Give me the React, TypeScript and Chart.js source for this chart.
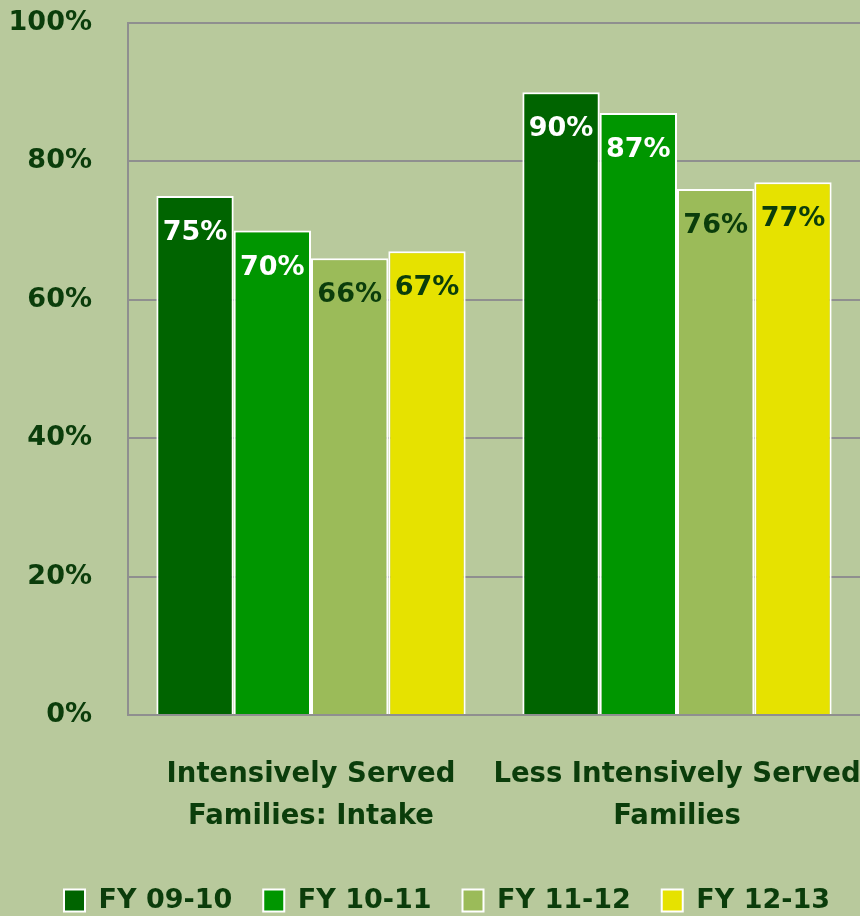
import React, { useEffect, useRef } from "react";
import { Chart, registerables } from "chart.js";

Chart.register(...registerables);

const categories: string[][] = [
  ["Intensively Served", "Families: Intake"],
  ["Less Intensively Served", "Families"],
];
const seriesNames = ["FY 09-10", "FY 10-11", "FY 11-12", "FY 12-13"];
const fy0910 = [75, 90];
const fy1011 = [70, 87];
const fy1112 = [66, 76];
const fy1213 = [67, 77];
const seriesColors = ["#006400", "#009600", "#9BBB59", "#E6E200"];
const labelColors = ["#FFFFFF", "#FFFFFF", "#0B3D0B", "#0B3D0B"];
const yTicks = [0, 20, 40, 60, 80, 100];

const TEXT = "#0B3D0B";
const FONT = "'DejaVu Sans', sans-serif";

const dataLabelPlugin = {
  id: "dataLabels",
  afterDatasetsDraw(chart: any) {
    const ctx = chart.ctx;
    ctx.save();
    ctx.font = `bold 27px ${FONT}`;
    ctx.textAlign = "center";
    ctx.textBaseline = "middle";
    chart.data.datasets.forEach((ds: any, i: number) => {
      const meta = chart.getDatasetMeta(i);
      meta.data.forEach((bar: any, j: number) => {
        ctx.fillStyle = labelColors[i];
        ctx.fillText(`${ds.data[j]}%`, bar.x, bar.y + 37);
      });
    });
    ctx.restore();
  },
};

const legendShiftPlugin = {
  id: "legendShift",
  afterLayout(chart: any) {
    if (chart.legend) {
      chart.legend.left += 17;
      chart.legend.right += 17;
    }
  },
};

export default function App() {
  const ref = useRef<HTMLCanvasElement>(null);
  useEffect(() => {
    document.body.style.margin = "0";
    const allData = [fy0910, fy1011, fy1112, fy1213];
    const chart = new Chart(ref.current!, {
      type: "bar",
      data: {
        labels: categories,
        datasets: seriesNames.map((name, i) => ({
          label: name,
          data: allData[i],
          backgroundColor: seriesColors[i],
          borderColor: "#FFFFFF",
          borderWidth: 2,
          borderSkipped: "bottom",
          categoryPercentage: 0.845,
          barPercentage: 1.0,
        })),
      },
      options: {
        animation: false,
        responsive: true,
        maintainAspectRatio: false,
        layout: { padding: { top: 23, left: 0, right: 0, bottom: -8 } },
        plugins: {
          tooltip: { enabled: false },
          legend: {
            position: "bottom",
            labels: {
              boxWidth: 21,
              boxHeight: 22,
              padding: 31,
              color: TEXT,
              font: { family: FONT, size: 27, weight: "bold" },
            },
          },
        },
        scales: {
          x: {
            grid: { display: false, drawTicks: false },
            border: { color: "#8F8F8F", width: 2 },
            ticks: {
              color: TEXT,
              padding: 39,
              autoSkip: false,
              font: { family: FONT, size: 27.5, weight: "bold", lineHeight: 1.53 },
              maxRotation: 0,
              minRotation: 0,
            },
            afterFit: (s: any) => {
              s.height = 141;
              s.paddingLeft = 0;
              s.paddingRight = 0;
            },
          },
          y: {
            min: 0,
            max: 100,
            afterBuildTicks: (s: any) => {
              s.ticks = yTicks.map((v) => ({ value: v }));
            },
            grid: { color: "#8F8F8F", lineWidth: 2, drawTicks: false },
            border: { color: "#8F8F8F", width: 2 },
            ticks: {
              color: TEXT,
              padding: 36,
              font: { family: FONT, size: 27, weight: "bold" },
              callback: (v: any) => `${v}%`,
            },
            afterFit: (s: any) => {
              s.width = 128;
              s.paddingTop = 0;
              s.paddingBottom = 0;
            },
          },
        },
      },
      plugins: [dataLabelPlugin, legendShiftPlugin],
    });
    return () => chart.destroy();
  }, []);
  return (
    <div style={{ width: 860, height: 916, background: "#B8C99C", position: "relative" }}>
      <canvas ref={ref} />
    </div>
  );
}
